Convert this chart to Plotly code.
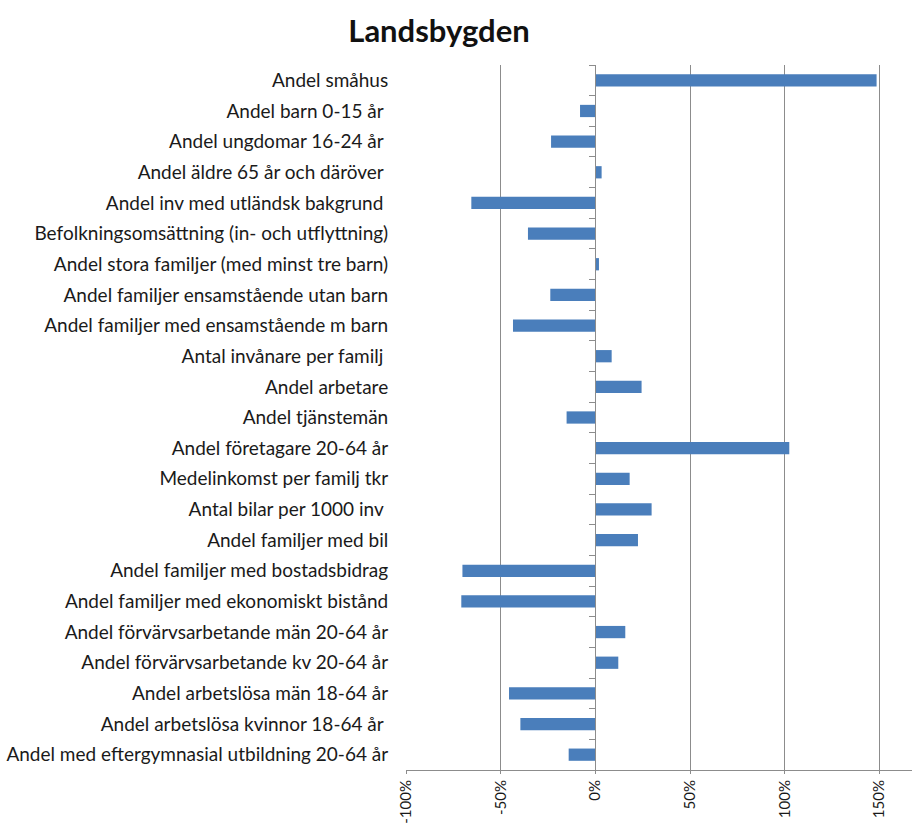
import plotly.graph_objects as go

# Indicator names (top to bottom) and relative deviation for the rural area
categories = [
    "Andel småhus",
    "Andel barn 0-15 år ",
    "Andel ungdomar 16-24 år ",
    "Andel äldre 65 år och däröver ",
    "Andel inv med utländsk bakgrund ",
    "Befolkningsomsättning (in- och utflyttning)",
    "Andel stora familjer (med minst tre barn)",
    "Andel familjer ensamstående utan barn",
    "Andel familjer med ensamstående m barn",
    "Antal invånare per familj ",
    "Andel arbetare",
    "Andel tjänstemän",
    "Andel företagare 20-64 år",
    "Medelinkomst per familj tkr",
    "Antal bilar per 1000 inv ",
    "Andel familjer med bil",
    "Andel familjer med bostadsbidrag",
    "Andel familjer med ekonomiskt bistånd",
    "Andel förvärvsarbetande män 20-64 år",
    "Andel förvärvsarbetande kv 20-64 år",
    "Andel arbetslösa män 18-64 år",
    "Andel arbetslösa kvinnor 18-64 år ",
    "Andel med eftergymnasial utbildning 20-64 år",
]
values = [
    1.485, -0.081, -0.234, 0.033, -0.655, -0.356, 0.019, -0.238, -0.435,
    0.086, 0.244, -0.152, 1.024, 0.181, 0.297, 0.225, -0.702, -0.708,
    0.158, 0.121, -0.456, -0.396, -0.141,
]
tick_vals = [-1.0, -0.5, 0.0, 0.5, 1.0, 1.5]
tick_text = ["-100%", "-50%", "0%", "50%", "100%", "150%"]

x_range = [-1.0, 1.672]
zero_pos = (0 - x_range[0]) / (x_range[1] - x_range[0])

font_family = "Lato, 'Open Sans', sans-serif"
bar_color = "#4A7EBB"
grid_color = "#8C8C8C"

fig = go.Figure()
fig.add_trace(go.Bar(
    x=values, y=categories, orientation="h",
    marker=dict(color=bar_color, line=dict(width=0)),
    hoverinfo="x+y", showlegend=False,
))
# invisible companion trace that carries the category axis drawn at 0%
fig.add_trace(go.Scatter(
    x=[0] * len(categories), y=categories, yaxis="y2",
    mode="markers", marker=dict(opacity=0), hoverinfo="skip", showlegend=False,
))

cat_range = [len(categories) - 0.5, -0.5]

fig.update_layout(
    width=912, height=825,
    margin=dict(l=406, r=0, t=65, b=55),
    paper_bgcolor="white", plot_bgcolor="white",
    font=dict(family=font_family, color="#1a1a1a", size=19),
    bargap=0.6,
    title=dict(
        text="<b>Landsbygden</b>",
        font=dict(family=font_family, size=31, color="#111111"),
        x=439 / 912, xanchor="center", xref="container",
        y=1 - 31 / 825, yanchor="middle", yref="container",
    ),
    xaxis=dict(
        range=x_range, tickvals=tick_vals, ticktext=tick_text,
        tickangle=-90, showgrid=True, gridcolor=grid_color, gridwidth=1,
        zeroline=False, showline=True, linecolor=grid_color, linewidth=1,
        ticks="outside", ticklen=3, tickcolor=grid_color,
        ticklabelstandoff=0, automargin=False,
        tickfont=dict(size=15), fixedrange=True,
    ),
    yaxis=dict(
        type="category", categoryorder="array", categoryarray=categories,
        range=cat_range, showgrid=False, zeroline=False, showline=False,
        ticks="outside", ticklen=13, tickcolor="rgba(0,0,0,0)",
        automargin=False,
        tickfont=dict(size=19), fixedrange=True,
    ),
    yaxis2=dict(
        type="category", categoryorder="array", categoryarray=categories,
        range=cat_range, overlaying="y", anchor="free", position=zero_pos,
        side="left", showgrid=False, zeroline=False,
        showline=True, linecolor=grid_color, linewidth=1,
        ticks="outside", tickson="boundaries", ticklen=6, tickcolor=grid_color,
        showticklabels=False, automargin=False, fixedrange=True,
    ),
)

fig.write_html("out.html")
